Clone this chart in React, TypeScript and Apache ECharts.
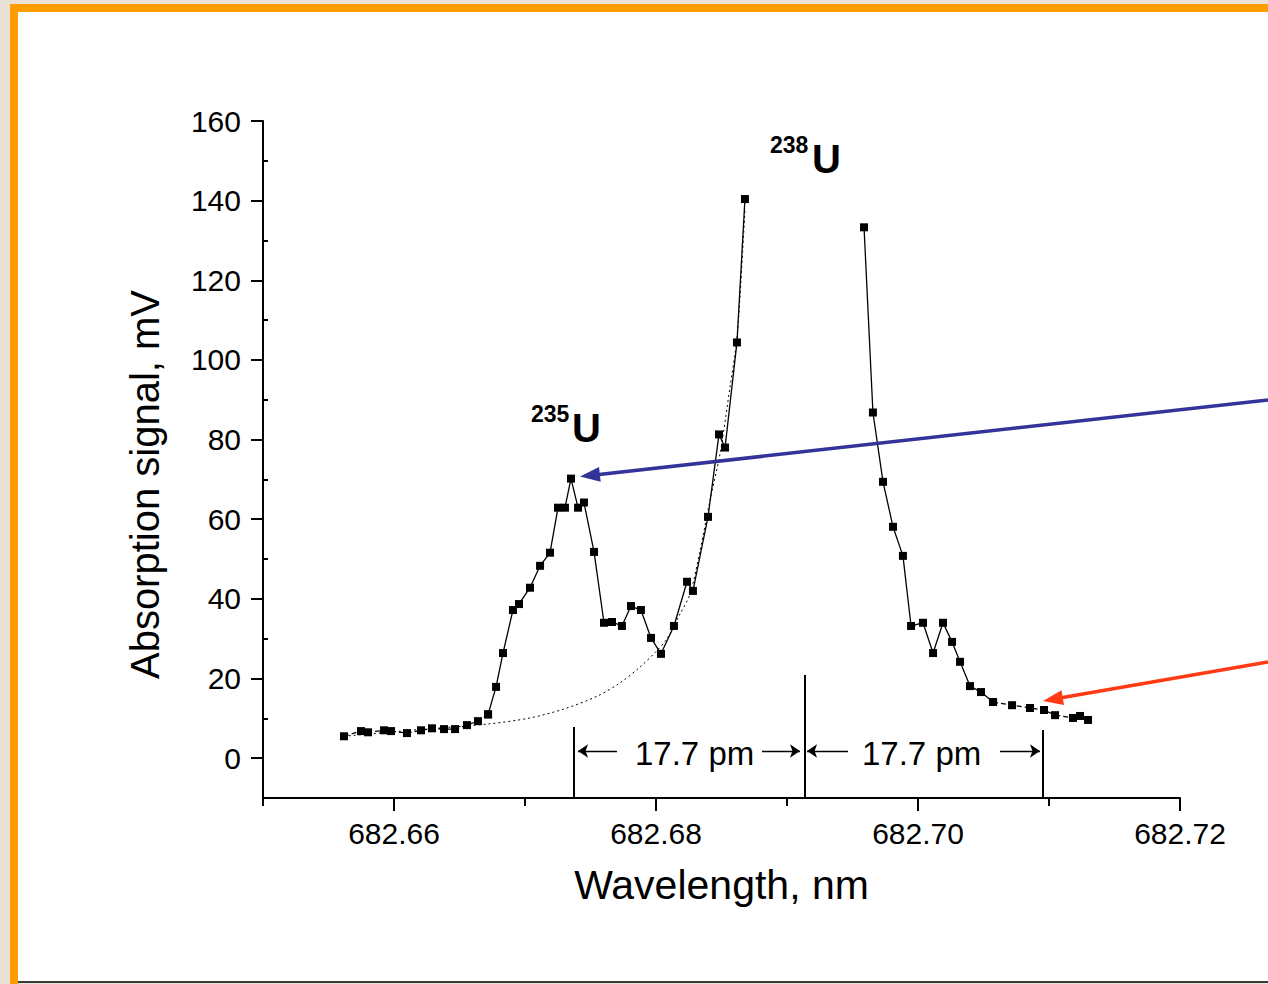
import React, { useEffect, useRef } from 'react';
import * as echarts from 'echarts';

// ---- data ----
// 235U side + rising wing of 238U (wavelength nm, signal mV)
const leftX = [682.65618, 682.65748, 682.65802, 682.65924, 682.65977, 682.66099, 682.66206, 682.6629, 682.66382, 682.66466,
  682.66557, 682.66641, 682.66718, 682.66779, 682.66832, 682.66908, 682.66954, 682.67038, 682.67115, 682.67191,
  682.67252, 682.67305, 682.67351, 682.67405, 682.6745, 682.67527, 682.67603, 682.67664, 682.6774, 682.67809,
  682.67885, 682.67962, 682.68038, 682.68137, 682.68237, 682.68282, 682.68397, 682.68481, 682.68527, 682.68618,
  682.68679];
const leftY = [5.5, 6.8, 6.5, 7.0, 6.8, 6.3, 7.0, 7.5, 7.3, 7.3,
  8.3, 9.3, 11.0, 17.9, 26.4, 37.2, 38.7, 42.8, 48.3, 51.6,
  62.9, 62.9, 70.2, 62.9, 64.2, 51.8, 34.0, 34.2, 33.2, 38.2,
  37.2, 30.2, 26.2, 33.2, 44.3, 42.0, 60.6, 81.3, 78.0, 104.4,
  140.4];
// falling wing of 238U
const rightX = [682.69588, 682.69656, 682.69733, 682.69809, 682.69885, 682.69947, 682.70038, 682.70115, 682.70191, 682.7026,
  682.70321, 682.70397, 682.70481, 682.70573, 682.70718, 682.70855, 682.70962, 682.71046, 682.71183, 682.71237, 682.71298];
const rightY = [133.3, 86.8, 69.4, 58.1, 50.8, 33.2, 34.0, 26.4, 34.0, 29.2,
  24.2, 18.1, 16.6, 14.1, 13.3, 12.6, 12.1, 10.8, 10.1, 10.6, 9.6];
// dotted fitted wing of the 238U line
const fitX = [682.65618, 682.66198, 682.66723, 682.67038, 682.67292, 682.67547, 682.67725, 682.67878, 682.67992, 682.68082,
  682.68183, 682.6826, 682.68336, 682.68412, 682.68489, 682.68565, 682.68616, 682.68641, 682.68679];
const fitY = [5.5, 7.2, 8.6, 10.1, 12.3, 15.5, 18.9, 22.9, 26.5, 29.9,
  36.2, 41.2, 52.1, 64.7, 76.5, 93.2, 104.9, 115.8, 137.6];

// spacing markers (17.7 pm)
const markX = [682.67374, 682.69137, 682.70954];
const markTop = [7.8, 20.9, 7.1];
const arrowFromX = [682.67702, 682.68809, 682.69466, 682.70626];
const arrowToX = [682.67405, 682.69099, 682.69153, 682.70931];
const arrowY = 1.8;
const spacingLabel = '17.7 pm';

// axis ticks
const xMajor = [682.66, 682.68, 682.70, 682.72];
const xMinor = [682.65, 682.67, 682.69, 682.71];
const yMajor = [0, 20, 40, 60, 80, 100, 120, 140, 160];
const yMinor = [10, 30, 50, 70, 90, 110, 130, 150];

const FONT = '"Liberation Sans", Arial, sans-serif';

export default function App() {
  const ref = useRef<HTMLDivElement>(null);

  useEffect(() => {
    const chart = echarts.init(ref.current as HTMLDivElement, null, { renderer: 'svg' });
    const pair = (xs: number[], ys: number[]) => xs.map((x, i) => [x, ys[i]]);
    const left = pair(leftX, leftY);
    const right = pair(rightX, rightY);
    const fit = pair(fitX, fitY);

    const dataSeries = (data: number[][], dash: any) => ({
      type: 'line',
      data,
      symbol: 'rect',
      symbolSize: 8,
      showSymbol: true,
      silent: true,
      z: 4,
      lineStyle: { color: '#000', width: 1.3, type: dash },
      itemStyle: { color: '#000' },
    });

    const base: any = {
      animation: false,
      backgroundColor: 'transparent',
      grid: { left: 263, right: 88, top: 121, bottom: 186, outerBoundsMode: 'none' },
      xAxis: [
        {
          type: 'value', min: 682.65, max: 682.72, position: 'bottom',
          name: 'Wavelength, nm', nameLocation: 'middle', nameGap: 66,
          nameTextStyle: { fontFamily: FONT, fontSize: 41, color: '#000' },
          axisLine: { show: true, onZero: false, lineStyle: { color: '#000', width: 2 } },
          axisTick: { show: true, inside: false, length: 13, customValues: xMajor, lineStyle: { color: '#000', width: 2 } },
          axisLabel: {
            show: true, customValues: xMajor, margin: 20, color: '#000', fontFamily: FONT, fontSize: 30,
            formatter: (v: number) => v.toFixed(2),
          },
          splitLine: { show: false },
        },
        {
          type: 'value', min: 682.65, max: 682.72, position: 'bottom', offset: 0,
          axisLine: { show: false, onZero: false },
          axisTick: { show: true, inside: false, length: 8, customValues: xMinor, lineStyle: { color: '#000', width: 2 } },
          axisLabel: { show: false },
          splitLine: { show: false },
        },
      ],
      yAxis: [
        {
          type: 'value', min: -10, max: 160, position: 'left',
          name: 'Absorption signal, mV', nameLocation: 'middle', nameGap: 98,
          nameTextStyle: { fontFamily: FONT, fontSize: 40, color: '#000', padding: [0, 50, 0, 0] },
          axisLine: { show: true, onZero: false, lineStyle: { color: '#000', width: 2 } },
          axisTick: { show: true, inside: false, length: 12, customValues: yMajor, lineStyle: { color: '#000', width: 2 } },
          axisLabel: {
            show: true, customValues: yMajor, margin: 22, color: '#000', fontFamily: FONT, fontSize: 30,
            formatter: (v: number) => String(v),
          },
          splitLine: { show: false },
        },
        {
          type: 'value', min: -10, max: 160, position: 'left', offset: 0,
          axisLine: { show: false, onZero: false },
          axisTick: { show: true, inside: true, length: 5, customValues: yMinor, lineStyle: { color: '#000', width: 2 } },
          axisLabel: { show: false },
          splitLine: { show: false },
        },
      ],
      series: [
        {
          type: 'line', data: fit, smooth: 0.3, showSymbol: false, silent: true, z: 3,
          lineStyle: { color: '#000', width: 1, type: [2, 3] },
          markLine: {
            silent: true, symbol: 'none', label: { show: false },
            lineStyle: { color: '#000', width: 2, type: 'solid' },
            data: markX.map((x, i) => [{ coord: [x, markTop[i]] }, { coord: [x, -10] }]),
          },
        },
        {
          ...dataSeries(left.slice(0, 13), [5, 3]),
          markLine: {
            silent: true, symbol: ['none', 'arrow'], symbolSize: 10, label: { show: false },
            lineStyle: { color: '#000', width: 1.3, type: 'solid' },
            data: arrowFromX.map((x, i) => [{ coord: [x, arrowY] }, { coord: [arrowToX[i], arrowY] }]),
          },
        },
        dataSeries(left.slice(12), 'solid'),
        dataSeries(right.slice(0, 14), 'solid'),
        dataSeries(right.slice(13), [5, 3]),
      ],
    };

    chart.setOption(base);

    const toPx = (p: number[]) => chart.convertToPixel({ xAxisIndex: 0, yAxisIndex: 0 }, p) as number[];
    const arrow = (id: string, start: number[], tip: number[], color: string) => {
      const dx = tip[0] - start[0];
      const dy = tip[1] - start[1];
      const len = Math.hypot(dx, dy);
      const ux = dx / len, uy = dy / len;
      const L = 20, W = 7.5;
      const bx = tip[0] - ux * L, by = tip[1] - uy * L;
      const nx = -uy, ny = ux;
      return [
        { type: 'line', id: id + 'l', z: 10, shape: { x1: start[0], y1: start[1], x2: bx + ux * 3, y2: by + uy * 3 }, style: { stroke: color, lineWidth: 3.5 } },
        { type: 'polygon', id: id + 'h', z: 10, shape: { points: [[tip[0], tip[1]], [bx + nx * W, by + ny * W], [bx - nx * W, by - ny * W]] }, style: { fill: color } },
      ];
    };

    const peak = toPx([leftX[22], leftY[22]]);
    const tail = toPx([rightX[16], rightY[16]]);
    const blueTip = [peak[0] + 9, peak[1] - 2];
    const redTip = [tail[0] - 1, tail[1] - 9];

    const txt = (id: string, x: number, y: number, text: string, size: number, bold: boolean) => ({
      type: 'text', id, x, y, z: 10,
      style: {
        text, fill: '#000', align: 'left', verticalAlign: 'middle',
        font: `${bold ? 'bold ' : ''}${size}px ${FONT}`,
      },
    });

    chart.setOption({
      graphic: [
        ...arrow('blue', [1268, 400], blueTip, '#333399'),
        ...arrow('red', [1268, 662], redTip, '#ff3a14'),
        txt('t235', 531, 414, '235', 23, true),
        txt('u235', 572, 428, 'U', 40, true),
        txt('t238', 770, 145, '238', 23, true),
        txt('u238', 812, 159, 'U', 40, true),
        txt('s1', 635, 753, spacingLabel, 33, false),
        txt('s2', 862, 753, spacingLabel, 33, false),
      ],
    });

    return () => chart.dispose();
  }, []);

  return (
    <div style={{ position: 'fixed', left: 0, top: 0, width: 1268, height: 984, background: '#e9e1d3', overflow: 'hidden' }}>
      <div style={{ position: 'absolute', left: 10, top: 4, width: 1258, height: 8, background: '#ff9d00' }} />
      <div style={{ position: 'absolute', left: 10, top: 4, width: 8, height: 980, background: '#ff9d00' }} />
      <div style={{ position: 'absolute', left: 18, top: 12, width: 1250, height: 969, background: '#ffffff' }} />
      <div style={{ position: 'absolute', left: 18, top: 981, width: 1250, height: 2, background: '#3a3a3a' }} />
      <div ref={ref} style={{ position: 'absolute', left: 0, top: 0, width: 1268, height: 984 }} />
    </div>
  );
}
